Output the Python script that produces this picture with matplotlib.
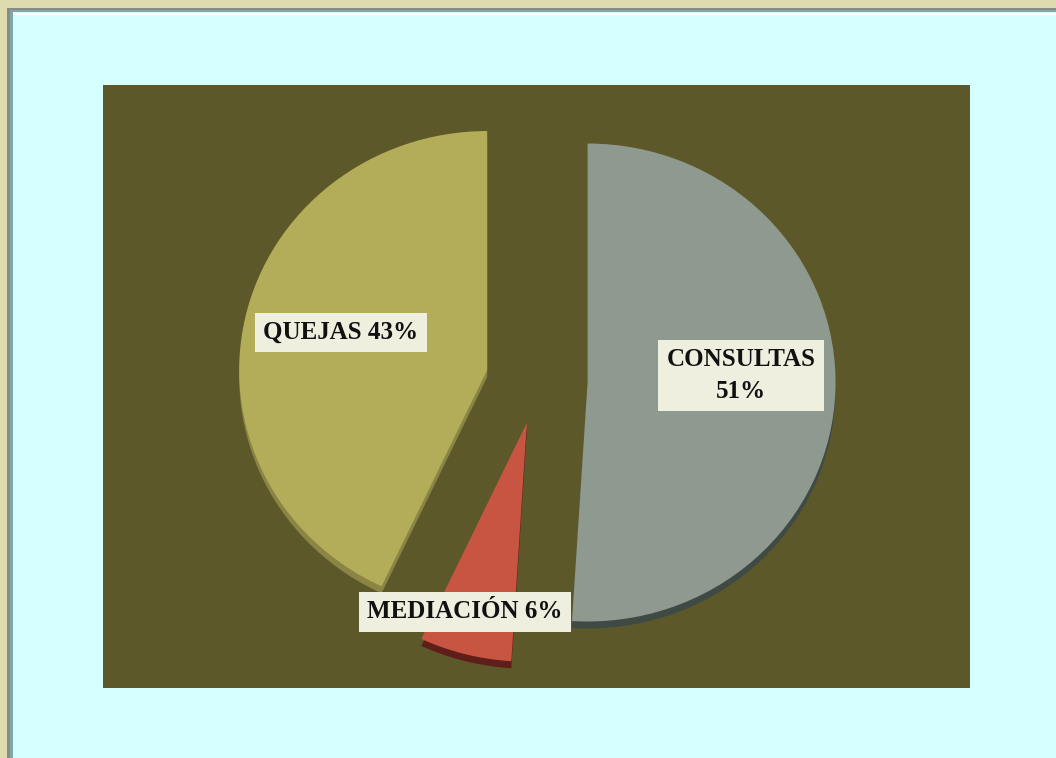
import matplotlib
matplotlib.use('Agg')
import matplotlib.pyplot as plt
import numpy as np
from matplotlib.patches import Rectangle

# datos
categorias = ['CONSULTAS', 'MEDIACIÓN', 'QUEJAS']
porcentajes = [51, 6, 43]
etiquetas = ['CONSULTAS\n51%', 'MEDIACIÓN 6%', 'QUEJAS 43%']
explotar = [0.20, 0.18, 0.21]

colores = ['#8e9a8f', '#c75542', '#b3ad5a']
colores_lado = ['#3f4a45', '#5e1f1a', '#8a8545']

W, H = 1056, 758
fig = plt.figure(figsize=(W / 100, H / 100), dpi=100)
fig.patch.set_facecolor('#d6ffff')

# marco beige / gris de la ventana
marco = [
    (0, H - 8, W, 8, '#dedcae'),
    (0, 0, 7, H, '#dedcae'),
    (7, H - 10, W - 7, 2, '#8a8a86'),
    (7, 0, 3, H - 8, '#8a8a86'),
    (10, 0, 3, H - 10, '#7fa8a8'),
    (10, H - 12, W - 10, 2, '#7fa8a8'),
    (13, H - 15, W - 13, 2, '#ffffff'),
]
for x, y, w, h, c in marco:
    fig.patches.append(Rectangle((x / W, y / H), w / W, h / H, transform=fig.transFigure,
                                 facecolor=c, edgecolor='none', zorder=0))

# area del grafico (olivo)
x0, x1, y0, y1 = 103, 970, 85, 688
ax = fig.add_axes([x0 / W, 1 - y1 / H, (x1 - x0) / W, (y1 - y0) / H])
ax.set_facecolor('#5c5829')

# centro del pie en pixeles y escala (elipse 248 x 239)
cx, cy, sx, sy = 538, 381, 248, 239

# canto 3D: copia oscura desplazada hacia abajo
prof = 7 / sy
ax.pie(porcentajes, colors=colores_lado, explode=explotar, startangle=90,
       counterclock=False, center=(0, -prof), radius=1, frame=True,
       wedgeprops=dict(linewidth=0))
cunas, _ = ax.pie(porcentajes, colors=colores, explode=explotar, startangle=90,
                  counterclock=False, center=(0, 0), radius=1, frame=True,
                  wedgeprops=dict(linewidth=0))
for c in cunas:
    c.set_zorder(3)

ax.set_xlim((x0 - cx) / sx, (x1 - cx) / sx)
ax.set_ylim(-(y1 - cy) / sy, (cy - y0) / sy)
ax.set_aspect('auto')
ax.set_xticks([])
ax.set_yticks([])
for s in ax.spines.values():
    s.set_visible(False)

# posicion de etiquetas (radio y angulo desde la punta de cada porcion)
pos_etq = [(0.62, 2.7), (0.83, 252.5), (0.61, 165)]
for cuna, txt, (r, ang) in zip(cunas, etiquetas, pos_etq):
    px, py = cuna.center
    tx = px + r * np.cos(np.radians(ang))
    ty = py + r * np.sin(np.radians(ang))
    ax.text(tx, ty, txt, ha='center', va='center', fontsize=18,
            fontweight='bold', family='Liberation Serif', color='#111111',
            linespacing=1.45, zorder=5,
            bbox=dict(boxstyle='square,pad=0.33', facecolor='#efefdf', edgecolor='none'))

fig.savefig('out.png', dpi=100, facecolor=fig.get_facecolor())
